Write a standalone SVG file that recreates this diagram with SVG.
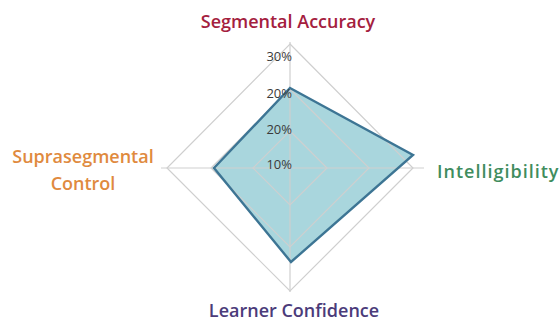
<svg xmlns="http://www.w3.org/2000/svg" width="559" height="322" viewBox="0 0 559 322">
<style>
.grid{fill:none;stroke:#cfcfcf;stroke-width:1.2}
.axis{stroke:#cfcfcf;stroke-width:1.2}
.tick{font-family:"Open Sans","Liberation Sans",sans-serif;font-size:13px;fill:#3a3a3a;text-anchor:end}
.lbl{font-family:"Open Sans","Liberation Sans",sans-serif;font-size:18px;font-weight:600}
</style>
<rect width="559" height="322" fill="#ffffff"/>
<g id="data">
<polygon points="290,88 413,155 291,262 214,168" fill="#8cc8d1" fill-opacity="0.75" stroke="none"/>
</g>
<g id="grid">
<polygon class="grid" points="290,44 413,168 290,291 167,168"/>
<polygon class="grid" points="290,89 369,168 290,247 211,168"/>
<polygon class="grid" points="290,131 327,168 290,205 253,168"/>
</g>
<g id="axes">
<line class="axis" x1="290" y1="42" x2="290" y2="292"/>
<line class="axis" x1="161" y1="168" x2="424" y2="168"/>
</g>
<g id="data-outline">
<polygon points="290,88 413,155 291,262 214,168" fill="none" stroke="#3d7594" stroke-width="2.4" stroke-linejoin="miter"/>
</g>
<g id="ticks">
<text class="tick" x="292" y="61">30%</text>
<text class="tick" x="292" y="98">20%</text>
<text class="tick" x="292" y="134">20%</text>
<text class="tick" x="292" y="169">10%</text>
</g>
<g id="label-segmental">
<text class="lbl" x="288" y="28" fill="#a4203e" text-anchor="middle">Segmental Accuracy</text>
</g>
<g id="label-intelligibility">
<text class="lbl" x="437" y="178" fill="#3f8d5e" letter-spacing="1">Intelligibility</text>
</g>
<g id="label-confidence">
<text class="lbl" x="294" y="317" fill="#4b3b7a" text-anchor="middle">Learner Confidence</text>
</g>
<g id="label-suprasegmental">
<text class="lbl" x="83" y="163" fill="#e08a3e" text-anchor="middle">Suprasegmental</text>
<text class="lbl" x="83" y="190" fill="#e08a3e" text-anchor="middle">Control</text>
</g>
</svg>
